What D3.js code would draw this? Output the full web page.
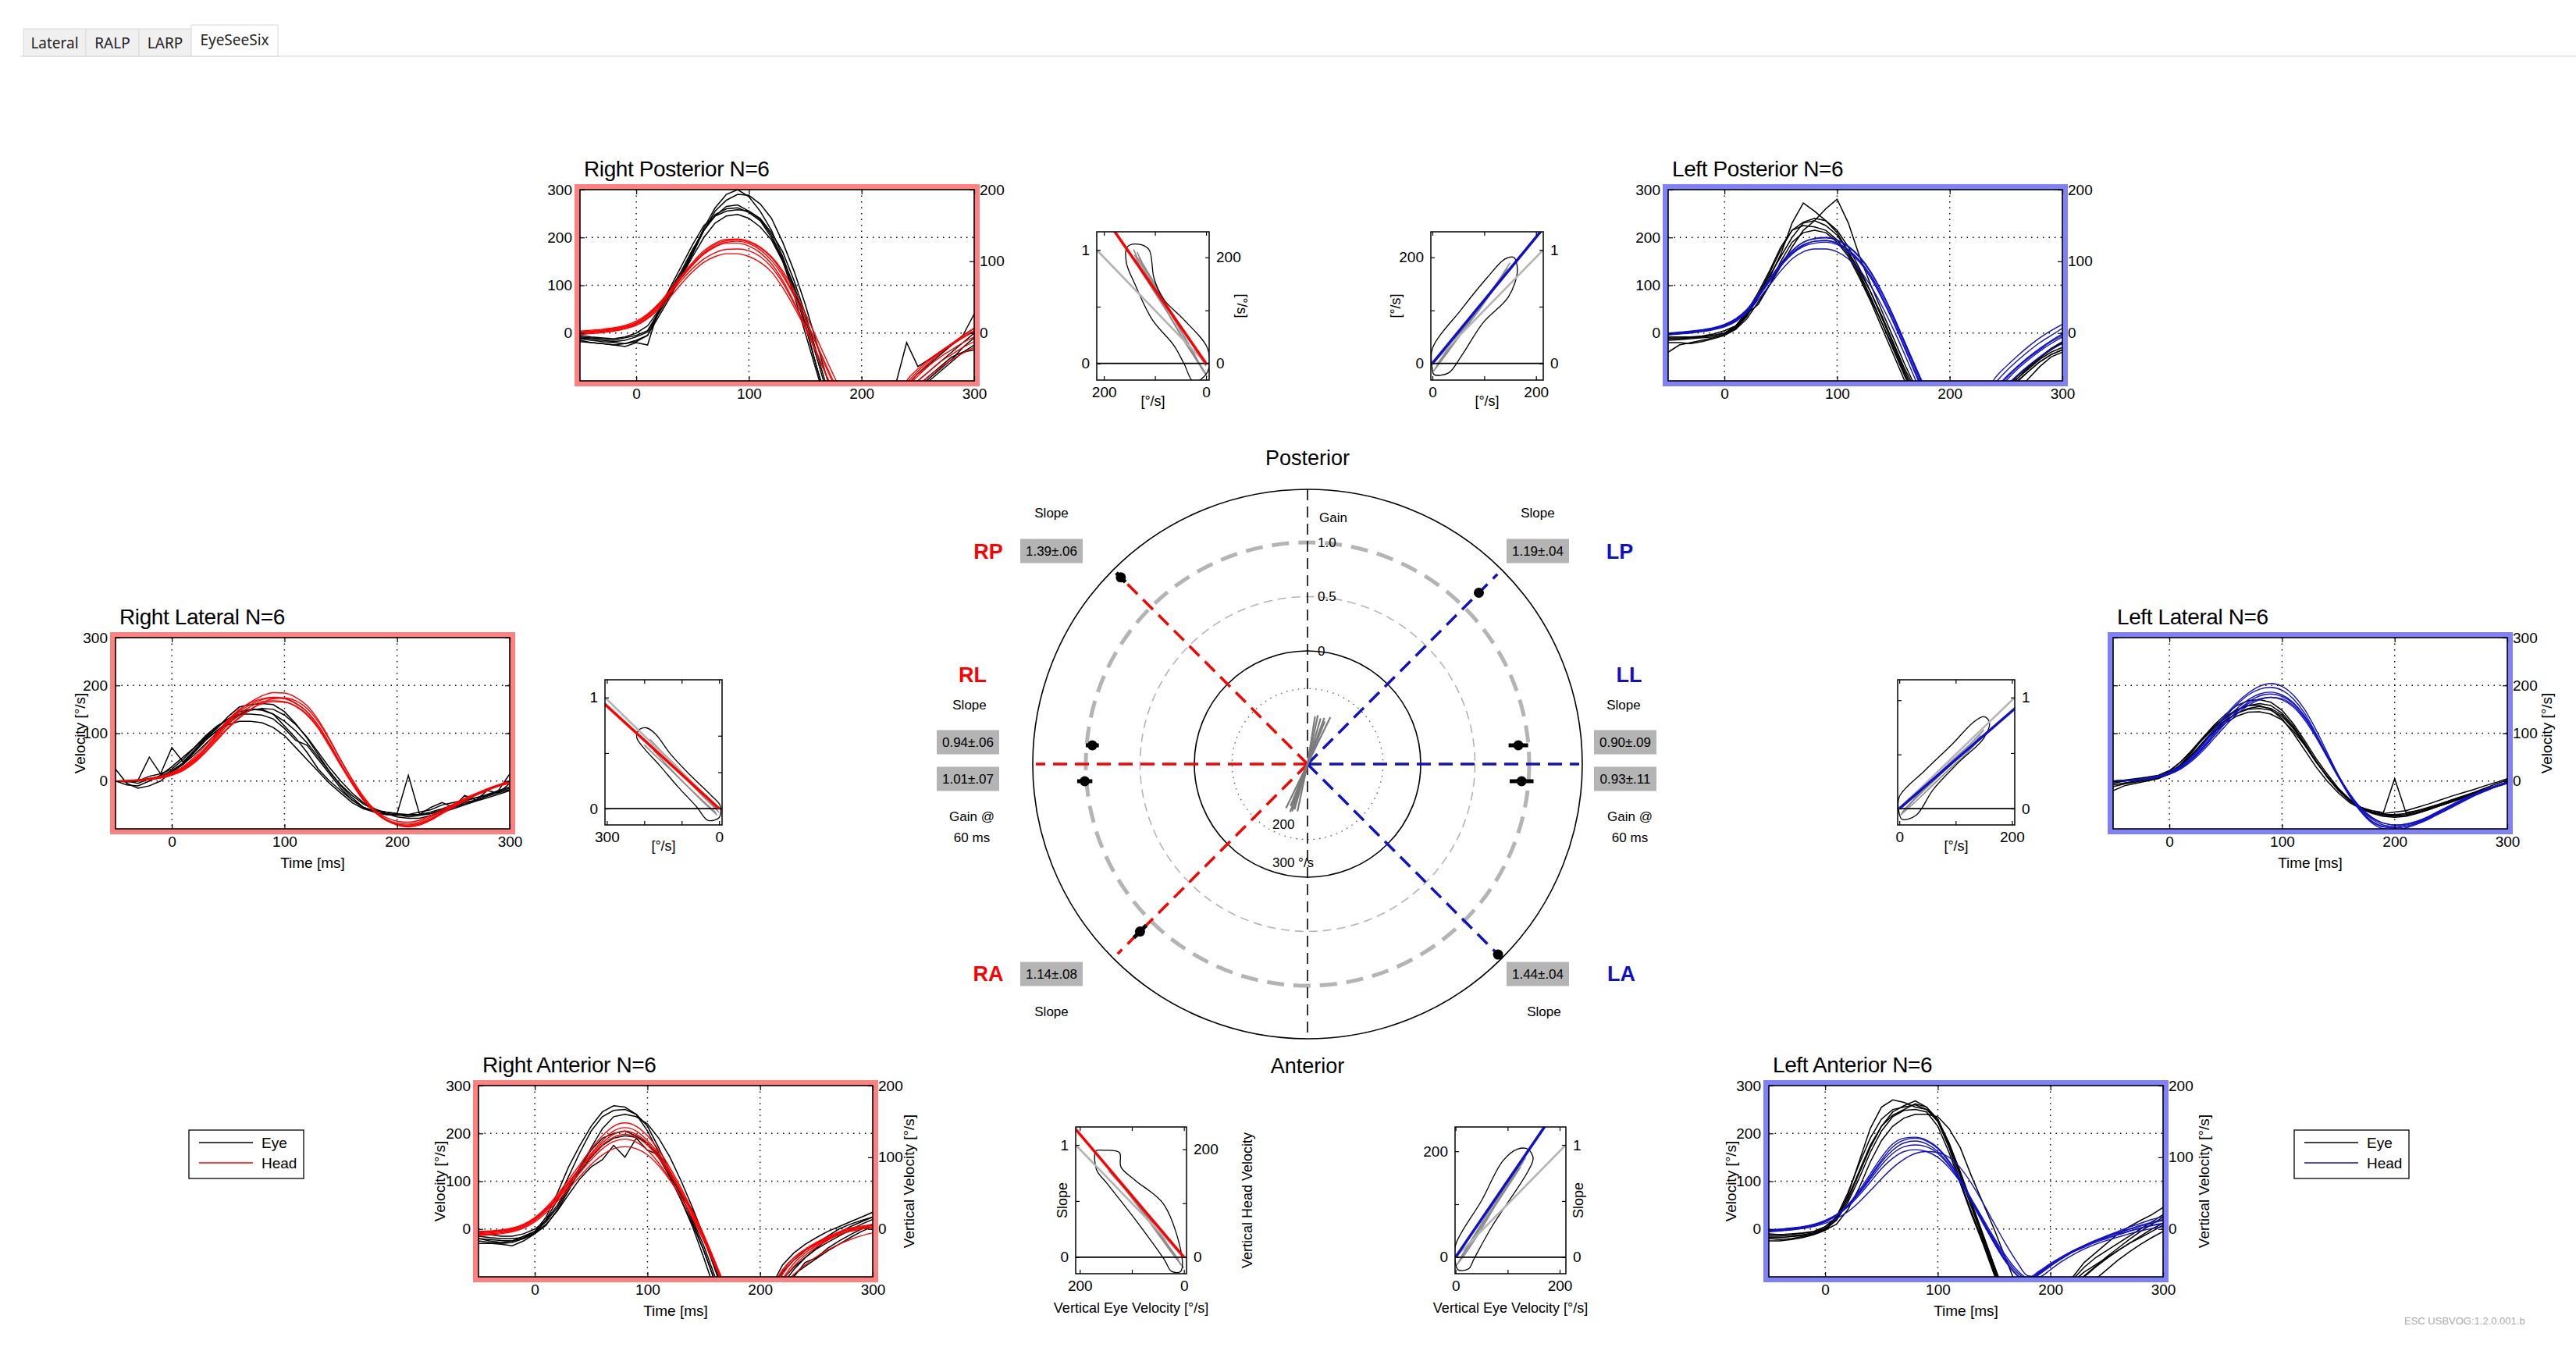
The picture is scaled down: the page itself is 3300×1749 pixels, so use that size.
<!DOCTYPE html>
<html>
<head>
<meta charset="utf-8">
<script src="https://cdn.jsdelivr.net/npm/d3@7"></script>
<style>
  body { margin: 0; background: #fff; }
  svg text { font-family: "Liberation Sans", Arial, Helvetica, sans-serif; }
</style>
</head>
<body>
<svg id="chart" width="3300" height="1749"></svg>
<script>
// ---------- DATA ----------
const timeMs = [-50,-40,-30,-20,-10,0,10,20,30,40,50,60,70,80,90,100,110,120,130,140,150,160,170,180,190,200,210,220,230,240,250,260,270,280,290,300];

// Right posterior
const rpEye = [
  [-5,-8,-10,-12,-8,0,15,48,85,125,170,220,262,290,300,285,255,215,160,95,20,-70,-150,-200,-220,-220,-200,-170,-140,-110,-85,-65,-45,-25,-5,10],
  [-12,-15,-18,-20,-22,-15,-5,42,80,120,165,215,255,278,290,288,270,240,190,130,60,-20,-100,-160,-200,-210,-200,-180,-150,-120,-100,-80,-60,-40,-20,0],
  [-15,-20,-22,-25,-28,-20,-25,50,95,140,185,225,245,255,258,255,240,210,170,110,40,-40,-120,-180,-210,-220,-210,-190,-160,-135,-110,-90,-70,-50,-40,-35],
  [-8,-10,-12,-15,-10,-5,5,45,90,130,175,215,245,265,268,255,238,205,155,100,30,-50,-130,-190,-210,-220,-200,-170,-110,-20,-70,-55,-40,-25,-5,40],
  [-10,-12,-15,-18,-15,-8,2,42,82,118,160,200,230,245,248,240,222,195,150,90,15,-70,-150,-200,-220,-220,-200,-180,-160,-140,-120,-100,-80,-60,-40,-25],
  [-18,-20,-22,-25,-22,-18,-5,35,75,120,170,215,248,260,262,252,235,200,150,80,0,-80,-160,-210,-230,-230,-220,-200,-170,-140,-115,-95,-75,-55,-30,-10]
];
const rpHead = [
  [2,4,6,9,14,22,38,60,88,118,145,168,185,193,195,190,178,158,125,80,30,-25,-80,-130,-170,-195,-200,-185,-150,-100,-75,-55,-38,-22,-8,5],
  [0,2,4,7,12,20,35,57,85,115,142,165,180,188,188,182,168,145,110,65,15,-40,-95,-145,-185,-205,-205,-185,-150,-115,-90,-68,-50,-35,-20,-8],
  [-2,0,2,5,10,18,32,54,82,110,135,155,168,175,176,172,160,138,105,62,15,-40,-95,-145,-185,-205,-205,-190,-160,-125,-100,-80,-60,-45,-30,-18],
  [4,6,8,11,16,25,40,62,90,120,148,172,188,196,197,192,180,160,130,90,42,-10,-62,-112,-155,-185,-195,-185,-140,-105,-80,-58,-40,-22,-5,10],
  [-3,-1,1,4,9,16,30,50,75,103,128,148,160,166,166,160,148,128,95,55,10,-42,-95,-145,-185,-205,-210,-195,-165,-135,-110,-90,-72,-56,-42,-30],
  [1,3,6,9,14,22,37,59,86,116,143,166,182,190,192,187,174,152,120,78,30,-22,-75,-125,-165,-190,-195,-180,-145,-110,-85,-62,-42,-25,-10,3]
];

// Left posterior
const lpEye = [
  [-40,-25,-20,-15,-10,-2,10,35,75,115,165,230,272,255,235,210,170,130,85,35,-20,-75,-120,-160,-190,-200,-200,-190,-170,-150,-125,-100,-80,-60,-45,-35],
  [-15,-14,-12,-10,-8,-3,8,30,65,100,140,180,215,235,260,280,230,160,100,45,-10,-65,-115,-155,-185,-200,-200,-190,-170,-145,-120,-95,-75,-55,-40,-30],
  [-10,-10,-9,-8,-5,0,12,40,80,125,175,215,232,240,235,215,180,135,85,30,-25,-80,-130,-170,-200,-210,-205,-190,-165,-140,-115,-90,-70,-50,-32,-18],
  [-20,-20,-22,-18,-12,-5,8,38,78,120,160,200,230,235,225,205,170,125,75,20,-35,-90,-140,-180,-205,-215,-210,-195,-175,-150,-125,-102,-80,-60,-45,-35],
  [-12,-12,-10,-8,-5,0,15,45,85,130,180,215,225,222,215,195,165,120,70,20,-30,-85,-135,-175,-200,-210,-205,-190,-165,-140,-115,-95,-72,-52,-35,-20],
  [-8,-8,-8,-6,-2,5,15,40,60,100,150,190,210,215,210,190,160,115,65,10,-45,-100,-145,-180,-205,-215,-210,-200,-180,-160,-140,-120,-95,-70,-50,-40]
];
const lpHead = [
  [-2,0,3,6,10,16,28,48,78,112,145,172,190,198,200,195,182,160,128,85,35,-20,-75,-125,-170,-200,-200,-175,-135,-95,-70,-48,-28,-10,5,18],
  [-3,-1,1,4,8,14,26,46,75,108,140,166,183,192,194,188,174,150,116,72,22,-32,-88,-140,-180,-205,-200,-170,-130,-105,-80,-58,-38,-20,-5,10],
  [0,2,4,7,11,18,30,50,80,113,146,172,190,197,199,194,180,158,126,84,36,-18,-72,-124,-168,-198,-205,-190,-155,-120,-95,-72,-52,-35,-18,-5],
  [-4,-2,0,3,7,13,24,43,70,100,130,155,170,176,176,170,155,132,98,56,8,-45,-100,-150,-190,-210,-210,-195,-165,-135,-110,-88,-68,-50,-35,-22],
  [-1,1,3,6,10,17,29,49,78,110,142,168,185,192,193,188,174,152,120,78,30,-24,-78,-130,-172,-200,-205,-190,-160,-128,-100,-76,-56,-38,-22,-8],
  [-2,0,2,5,9,15,27,47,76,108,140,165,181,188,190,185,170,148,115,72,24,-30,-84,-135,-176,-202,-205,-185,-150,-118,-92,-70,-50,-32,-16,-2]
];

// Right lateral
const rlEye = [
  [25,-5,-15,-10,0,20,35,60,85,105,125,140,150,150,140,115,90,60,25,0,-20,-40,-55,-65,-70,-70,-75,-72,-68,-60,-55,-45,-40,-30,-22,-15],
  [0,0,2,50,15,70,40,65,90,110,135,155,160,162,160,145,120,90,55,20,-10,-35,-55,-65,-70,-72,-70,-65,-60,-50,-45,-40,-35,-30,-20,15],
  [0,-2,0,10,15,25,45,70,95,115,130,140,140,138,130,110,85,75,45,15,-15,-40,-55,-62,-65,-68,12,-70,-55,-45,-55,-30,-40,-20,-25,-5],
  [0,0,-5,5,10,22,38,62,88,105,118,125,125,122,112,95,70,45,20,-5,-25,-45,-58,-65,-68,-70,-72,-70,-65,-58,-50,-42,-35,-28,-20,-12],
  [0,-8,-10,0,12,30,50,70,92,112,130,145,150,148,140,125,105,80,50,20,-8,-30,-48,-60,-65,-68,-70,-70,-68,-62,-55,-48,-40,-32,-25,-18],
  [0,0,0,5,10,18,35,55,78,100,120,138,148,152,150,138,118,92,60,28,0,-25,-45,-58,-68,-75,-78,-78,-72,-65,-58,-50,-42,-35,-28,-20]
];
const rlHead = [
  [0,1,2,5,9,16,28,46,70,98,125,148,165,178,185,184,175,158,128,88,44,2,-35,-62,-80,-90,-94,-90,-80,-68,-55,-42,-30,-20,-10,-3],
  [0,1,2,4,8,15,27,44,68,95,122,145,160,170,174,172,162,145,116,78,36,-4,-40,-65,-82,-90,-92,-88,-78,-66,-53,-40,-28,-18,-9,-2],
  [0,0,1,3,7,14,25,42,66,92,118,140,156,166,168,166,156,138,110,72,32,-6,-40,-64,-80,-88,-90,-85,-75,-63,-50,-38,-27,-17,-9,-3],
  [0,0,1,3,7,13,23,40,62,88,112,134,150,162,166,165,157,140,112,75,35,-3,-36,-60,-76,-84,-86,-82,-72,-60,-48,-36,-26,-16,-8,-1],
  [0,0,1,3,6,12,22,38,60,85,110,132,150,164,172,174,168,152,124,86,44,4,-32,-60,-80,-92,-96,-92,-82,-68,-54,-40,-28,-17,-8,0],
  [0,1,3,6,10,18,30,50,75,102,128,150,164,172,175,173,163,145,116,78,37,-3,-38,-64,-82,-92,-95,-90,-80,-66,-52,-40,-29,-19,-11,-5]
];

// Left lateral
const llEye = [
  [-20,-10,-5,0,5,15,35,60,90,115,135,150,158,158,150,130,100,65,30,0,-25,-45,-58,-65,-68,-65,-62,-55,-48,-40,-32,-25,-18,-10,-3,5],
  [-5,0,3,6,10,20,40,65,92,118,140,158,168,170,165,148,120,85,48,15,-15,-38,-55,-65,-70,-70,-68,-62,-55,-48,-40,-32,-24,-15,-6,2],
  [0,2,5,8,12,22,40,62,88,112,132,148,158,162,158,142,115,80,42,10,-18,-40,-55,-62,-66,5,-66,-62,-56,-48,-40,-32,-25,-18,-10,-2],
  [-8,-4,0,4,8,16,32,55,82,108,128,142,150,152,148,135,110,78,42,10,-18,-40,-56,-66,-72,-74,-72,-67,-60,-52,-44,-36,-28,-20,-12,-4],
  [-2,0,3,6,10,18,34,56,80,102,122,136,144,145,140,128,105,75,40,10,-18,-40,-55,-65,-70,-72,-70,-65,-58,-50,-42,-34,-26,-18,-10,-2],
  [-12,-6,-2,2,6,14,30,52,78,104,126,142,152,156,152,138,112,78,42,8,-20,-42,-58,-68,-74,-76,-74,-68,-60,-52,-44,-36,-28,-20,-12,-5]
];
const llHead = [
  [0,1,3,6,10,17,30,50,76,106,135,160,180,192,196,190,172,142,100,55,10,-30,-62,-84,-95,-98,-95,-88,-78,-66,-54,-42,-30,-20,-10,-2],
  [0,1,2,5,9,16,28,47,72,100,128,152,170,182,186,180,164,136,96,52,8,-32,-64,-85,-96,-98,-95,-88,-78,-66,-54,-42,-30,-20,-10,-3],
  [0,1,3,5,9,16,28,46,70,96,122,145,162,172,175,170,155,128,92,50,8,-28,-58,-78,-88,-92,-90,-84,-75,-64,-52,-40,-30,-20,-12,-5],
  [0,1,2,4,8,14,25,42,64,90,116,140,158,170,175,172,158,132,96,55,12,-26,-56,-76,-88,-92,-90,-84,-74,-62,-50,-38,-28,-18,-10,-3],
  [0,1,3,6,11,19,32,52,78,108,138,164,184,198,204,198,180,150,108,60,12,-30,-64,-88,-100,-102,-98,-90,-80,-68,-56,-44,-32,-22,-12,-4],
  [0,1,2,5,9,15,27,45,68,95,122,146,165,178,182,177,162,135,97,53,9,-30,-60,-80,-92,-95,-92,-86,-76,-64,-52,-41,-30,-20,-11,-4]
];

// Right anterior
const raEye = [
  [-20,-25,-28,-25,-15,-5,25,75,130,175,215,245,258,255,240,205,160,110,60,5,-60,-130,-190,-220,-220,-200,-140,-90,-65,-45,-30,-15,0,10,18,25],
  [-30,-30,-32,-35,-25,-10,20,60,110,160,205,235,248,250,240,215,170,120,70,15,-45,-110,-170,-210,-220,-190,-120,-75,-50,-32,-18,-5,5,15,25,35],
  [-15,-18,-20,-20,-18,-5,15,45,85,120,150,175,190,195,192,180,155,115,70,20,-35,-100,-160,-200,-210,-200,-160,-120,-100,-70,-60,-40,-25,-12,0,10],
  [-10,-12,-15,-15,-10,0,18,50,90,130,165,190,200,205,195,180,150,108,60,10,-45,-110,-170,-210,-220,-210,-170,-125,-95,-78,-62,-46,-32,-18,-5,5],
  [-25,-28,-30,-28,-20,-8,10,38,72,105,130,145,175,150,190,165,155,115,70,40,-20,-85,-150,-200,-215,-200,-150,-105,-80,-60,-42,-28,-15,-2,10,20],
  [-20,-22,-24,-25,-20,-10,8,40,80,125,170,210,235,240,235,220,190,150,100,45,-15,-80,-145,-195,-215,-205,-160,-115,-85,-60,-40,-22,-8,5,15,25]
];
const raHead = [
  [-8,-6,-4,0,8,22,42,68,98,128,158,185,205,212,205,185,158,122,80,35,-15,-70,-125,-170,-200,-190,-140,-95,-65,-45,-30,-18,-8,0,5,8],
  [-10,-8,-6,-2,6,20,40,65,95,125,155,180,198,205,198,180,152,118,78,32,-18,-72,-128,-172,-200,-185,-130,-88,-60,-42,-28,-16,-6,2,6,10],
  [-12,-10,-8,-4,4,18,38,62,90,118,145,168,183,188,182,165,138,104,65,22,-25,-78,-132,-175,-200,-180,-125,-85,-60,-45,-32,-20,-10,-3,2,5],
  [-5,-4,-2,2,10,24,45,72,103,135,167,195,215,222,215,195,165,128,85,38,-12,-68,-125,-172,-205,-195,-150,-105,-72,-50,-35,-22,-12,-5,0,4],
  [-14,-12,-10,-6,2,15,34,58,84,110,135,155,168,172,168,155,132,102,66,25,-20,-72,-125,-168,-195,-190,-155,-120,-95,-75,-58,-44,-32,-22,-14,-8],
  [-7,-5,-3,1,9,22,42,66,95,124,152,176,192,198,192,175,148,114,75,30,-20,-75,-130,-175,-205,-195,-150,-108,-78,-55,-38,-24,-12,-3,3,8]
];

// Left anterior
const laEye = [
  [-25,-25,-22,-18,-12,-3,20,70,140,210,255,270,265,255,250,230,175,110,45,-20,-85,-150,-200,-220,-210,-180,-140,-105,-80,-60,-45,-30,-15,0,15,30],
  [-20,-22,-20,-16,-10,0,25,75,135,190,230,250,255,260,250,225,180,120,55,-10,-75,-140,-190,-215,-205,-175,-140,-110,-90,-75,-60,-45,-30,-18,-5,8],
  [-10,-12,-10,-8,-5,5,25,65,120,175,215,238,250,262,255,230,180,115,50,-15,-80,-145,-195,-220,-210,-180,-150,-120,-100,-80,-62,-45,-30,-15,0,12],
  [-15,-15,-14,-12,-8,0,18,55,105,160,205,235,248,250,245,215,160,95,30,-30,-95,-155,-200,-220,-205,-170,-135,-100,-70,-50,-30,-10,5,18,30,45],
  [-18,-18,-16,-14,-10,-2,10,40,85,140,185,215,232,240,240,235,210,170,110,55,0,-60,-120,-170,-200,-210,-190,-160,-130,-105,-85,-65,-48,-32,-18,-5],
  [-12,-12,-11,-9,-6,2,22,60,115,170,215,245,258,268,255,225,170,100,35,-25,-90,-150,-200,-220,-210,-185,-155,-125,-98,-78,-58,-40,-22,-5,10,25]
];
const laHead = [
  [-3,-1,1,4,9,17,30,50,80,115,150,178,190,192,186,170,142,105,62,18,-25,-65,-95,-110,-95,-78,-62,-48,-35,-24,-14,-5,4,12,20,26],
  [-5,-3,-1,2,7,15,28,48,76,108,140,165,180,184,178,162,135,98,56,12,-30,-68,-96,-108,-92,-75,-60,-46,-34,-24,-15,-7,0,8,14,20],
  [-2,0,2,5,10,18,30,48,74,104,134,158,172,176,172,158,133,100,60,18,-22,-60,-90,-105,-90,-74,-60,-48,-38,-28,-20,-12,-5,2,8,12],
  [-4,-2,0,3,8,16,28,46,70,98,126,148,162,166,162,150,128,98,62,22,-18,-55,-85,-102,-88,-72,-58,-45,-35,-26,-18,-11,-4,2,7,11],
  [-6,-4,-2,1,5,12,22,36,56,80,105,128,146,158,162,160,150,128,95,55,12,-30,-68,-98,-100,-85,-68,-54,-42,-32,-24,-17,-10,-4,1,5],
  [-3,-1,1,4,9,16,29,48,76,110,144,172,186,190,184,168,140,103,60,15,-28,-66,-96,-110,-94,-77,-62,-48,-36,-25,-16,-8,-1,6,12,18]
];

// canal summary values
const canalNames = ['RP', 'LP', 'RL', 'LL', 'RA', 'LA'];
const canalAngles = [135, 45, 180, 0, 225, 315];
const slopeMean = [1.39, 1.19, 0.94, 0.90, 1.14, 1.44];
const slopeSd = [0.06, 0.04, 0.06, 0.09, 0.08, 0.04];
const gain60Mean = [null, null, 1.01, 0.93, null, null];
const gain60Sd = [null, null, 0.07, 0.11, null, null];

// regression plots: outline and velocity trajectories [velocity, velocity]
const rpContour = [[154,220],[133,225],[112,215],[102,161],[84,122],[43,82],[-3,28],[-3,-16],[24,-35],[43,-1],[63,34],[105,82],[140,151],[156,190]];
const rpTraj = [
  [[0,-20],[20,10],[50,55],[80,105],[110,150],[130,185],[140,205]],
  [[5,-15],[25,20],[55,70],[85,120],[115,165],[135,200],[142,215]],
  [[-2,-25],[15,0],[45,45],[75,95],[105,140],[128,175],[138,195]],
  [[8,-10],[30,30],[60,80],[90,130],[118,175],[132,200]],
  [[0,-5],[20,25],[40,55],[70,100],[100,150],[125,190],[135,210]]
];
const lpContour = [[0,28],[56,102],[105,161],[140,197],[157,200],[164,175],[147,126],[98,77],[56,14],[31,-18],[3,-21],[0,-11]];
const lpTraj = [
  [[5,-10],[30,25],[60,65],[95,110],[125,150],[145,180]],
  [[8,-5],[35,35],[65,75],[100,118],[130,160],[150,190]],
  [[2,-15],[25,15],[55,55],[90,100],[120,142],[140,170]],
  [[10,0],[40,40],[75,88],[110,130],[140,172]]
];
const rlContour = [[215,215],[195,222],[170,205],[130,150],[80,95],[20,35],[-3,8],[0,-25],[30,-32],[60,5],[110,60],[160,120],[200,165],[220,195]];
const rlTraj = [
  [[0,-10],[40,30],[80,72],[120,112],[160,150],[190,180]],
  [[5,-18],[45,20],[85,62],[125,102],[165,140],[200,175]],
  [[3,-5],[35,32],[75,75],[115,118],[155,158],[185,190]],
  [[8,-12],[50,28],[95,72],[140,120],[175,160]]
];
const llContour = [[0,22],[45,70],[95,120],[130,158],[150,170],[160,160],[150,130],[105,85],[60,35],[30,-12],[5,-20],[0,-10]];
const llTraj = [
  [[4,-8],[30,20],[60,50],[90,80],[120,108],[145,135]],
  [[8,-4],[35,28],[65,60],[95,90],[125,118],[150,145]],
  [[2,-12],[28,12],[58,42],[88,72],[118,100],[140,125]],
  [[10,0],[40,30],[75,65],[110,100],[140,128]]
];
const raContour = [[169,197],[155,198],[124,194],[121,167],[93,142],[38,97],[3,-7],[7,-27],[24,-26],[38,-4],[100,78],[148,137],[168,162]];
const raTraj = [
  [[5,-15],[30,20],[60,60],[95,105],[125,140],[150,170]],
  [[10,-5],[40,35],[70,75],[105,118],[135,150],[155,178]],
  [[0,-20],[25,10],[55,50],[85,90],[115,128],[145,160]],
  [[8,-10],[35,28],[65,70],[100,112],[130,148]]
];
const laContour = [[0,23],[50,107],[91,182],[119,204],[139,204],[149,187],[139,162],[70,58],[36,-2],[25,-22],[5,-24],[0,-11]];
const laTraj = [
  [[5,-10],[25,20],[50,58],[80,105],[110,150],[130,180]],
  [[8,-5],[30,30],[60,75],[90,122],[115,160],[135,188]],
  [[2,-15],[20,8],[45,45],[75,95],[105,140],[125,170]],
  [[10,0],[35,40],[65,88],[95,132],[125,175]]
];

// head impulse directions in the polar centre [deg, °/s]
const headUpAngle = [64, 70, 74, 78, 81, 68];
const headUpVel = [138, 130, 126, 132, 128, 122];
const headDownAngle = [244, 250, 254, 258, 248, 252];
const headDownVel = [130, 135, 125, 128, 120, 132];

// axis ticks
const timeTicks = [0, 100, 200, 300];
const velTicks = [0, 100, 200, 300];
const vertVelTicks = [0, 100, 200];
const gainRings = [1.0, 0.5];
const tabNames = ['Lateral', 'RALP', 'LARP', 'EyeSeeSix'];
const legendNames = ['Eye', 'Head'];

// ---------- DRAWING ----------
const svg = d3.select('#chart');
const FONT = '"Liberation Sans", Arial, Helvetica, sans-serif';
const RED = '#ff0000';
const BLUE = '#1010c8';
const PINK = '#ff8080';
const LBLUE = '#8080f8';
const PW = 505, PH = 245;

svg.append('rect').attr('width', 3300).attr('height', 1749).attr('fill', '#fff');

function styleAxis(sel, fs) {
    sel.attr('font-family', FONT).attr('font-size', fs);
    sel.select('.domain').remove();
    sel.selectAll('.tick line').attr('stroke', '#000').attr('stroke-width', 1.2);
    sel.selectAll('.tick text').attr('fill', '#000');
}

function vText(g, x, y, txt, fs, rot) {
    g.append('text')
        .attr('transform', `translate(${x},${y}) rotate(${rot})`)
        .attr('text-anchor', 'middle')
        .attr('dy', '0.35em')
        .style('font-size', fs + 'px')
        .text(txt);
}

// tabs
function drawTabs() {
    const tabW = [80, 68, 67, 111];
    let tx = 30;
    const g = svg.append('g');
    g.append('line').attr('x1', 25).attr('x2', 3300).attr('y1', 72).attr('y2', 72).attr('stroke', '#e3e3e3').attr('stroke-width', 1.5);
    tabNames.forEach((t, i) => {
        const sel = i === tabNames.length - 1;
        const y0 = sel ? 32 : 37;
        g.append('rect').attr('x', tx).attr('y', y0).attr('width', tabW[i]).attr('height', 72 - y0)
            .attr('fill', sel ? '#ffffff' : '#f0f0f0').attr('stroke', '#d9d9d9').attr('stroke-width', 1);
        g.append('text').attr('x', tx + tabW[i] / 2).attr('y', sel ? 58 : 62).attr('text-anchor', 'middle')
            .style('font-family', '"Noto Sans", "Open Sans", sans-serif').style('font-size', '19px').attr('fill', '#222')
            .text(t);
        tx += tabW[i];
    });
}

function drawTimePanel(p) {
    const g = svg.append('g').attr('transform', `translate(${p.x},${p.y})`);
    const x = d3.scaleLinear().domain([-50, 300]).range([0, PW]);
    const y = d3.scaleLinear().domain([-100, 300]).range([PH, 0]);
    const y2 = d3.scaleLinear().domain([-200 / 3, 200]).range([PH, 0]);

    g.append('rect').attr('x', -3.5).attr('y', -3.5).attr('width', PW + 7).attr('height', PH + 7)
        .attr('fill', 'none').attr('stroke', p.frame).attr('stroke-width', 7);

    const grid = g.append('g').attr('stroke', '#000').attr('stroke-width', 1.4).attr('stroke-dasharray', '1.5,6');
    grid.selectAll('line.gx').data(timeTicks.slice(0, 3)).join('line').attr('class', 'gx')
        .attr('x1', d => x(d)).attr('x2', d => x(d)).attr('y1', 0).attr('y2', PH);
    grid.selectAll('line.gy').data(velTicks.slice(0, 3)).join('line').attr('class', 'gy')
        .attr('x1', 0).attr('x2', PW).attr('y1', d => y(d)).attr('y2', d => y(d));

    g.append('clipPath').attr('id', 'clip-' + p.id).append('rect').attr('width', PW).attr('height', PH);
    const tr = g.append('g').attr('clip-path', `url(#clip-${p.id})`).attr('fill', 'none');
    const eyeLine = d3.line().x((d, i) => x(timeMs[i])).y(d => y(d));
    const headLine = d3.line().x((d, i) => x(timeMs[i])).y(d => y(d)).curve(d3.curveMonotoneX);
    tr.selectAll('path.eye').data(p.eye).join('path').attr('class', 'eye')
        .attr('d', eyeLine).attr('stroke', '#000').attr('stroke-width', 1.5);
    tr.selectAll('path.head').data(p.head).join('path').attr('class', 'head')
        .attr('d', headLine).attr('stroke', p.color).attr('stroke-width', 1.4);

    g.append('rect').attr('width', PW).attr('height', PH).attr('fill', 'none').attr('stroke', '#000').attr('stroke-width', 1.6);

    const left = g.append('g').call(d3.axisLeft(y).tickValues(velTicks).tickSize(-6).tickPadding(10)
        .tickFormat(p.leftLabels ? d3.format('d') : ''));
    styleAxis(left, 19);
    let right;
    if (p.right === 'vert') {
        right = g.append('g').attr('transform', `translate(${PW},0)`)
            .call(d3.axisRight(y2).tickValues(vertVelTicks).tickSize(-6).tickPadding(7));
    } else {
        right = g.append('g').attr('transform', `translate(${PW},0)`)
            .call(d3.axisRight(y).tickValues(velTicks).tickSize(-6).tickPadding(7)
                .tickFormat(p.right === 'vel' ? d3.format('d') : ''));
    }
    styleAxis(right, 19);
    const bottom = g.append('g').attr('transform', `translate(0,${PH})`)
        .call(d3.axisBottom(x).tickValues(timeTicks).tickSize(-6).tickPadding(10));
    styleAxis(bottom, 19);
    const top = g.append('g').call(d3.axisTop(x).tickValues(timeTicks).tickSize(-6).tickFormat(''));
    styleAxis(top, 19);

    g.append('text').attr('x', 5).attr('y', -17).style('font-size', '28px').style('letter-spacing', '-0.4px').text(p.title);
    if (p.xLabel) {
        g.append('text').attr('x', PW / 2).attr('y', PH + 50).attr('text-anchor', 'middle').style('font-size', '19px').text('Time [ms]');
    }
    if (p.leftTitle) vText(g, p.leftTitleX, PH / 2, p.leftTitle, 19, -90);
    if (p.rightTitle) vText(g, PW + p.rightTitleX, PH / 2, p.rightTitle, 19, -90);
}

function drawScatter(s) {
    const g = svg.append('g').attr('transform', `translate(${s.x},${s.y})`);
    const edge = s.xMax;
    const x = d3.scaleLinear().domain([s.xMin, s.xMax]).range(s.mirror ? [s.w, 0] : [0, s.w]);
    const y = d3.scaleLinear().domain([-0.147 * edge, 1.16 * edge]).range([s.h, 0]);
    const ys = d3.scaleLinear().domain([-0.147, 1.16]).range([s.h, 0]);

    g.append('clipPath').attr('id', 'clip-' + s.id).append('rect').attr('width', s.w).attr('height', s.h);
    const c = g.append('g').attr('clip-path', `url(#clip-${s.id})`).attr('fill', 'none');

    c.selectAll('path.traj').data(s.traj).join('path').attr('class', 'traj')
        .attr('d', d3.line().x(d => x(d[0])).y(d => y(d[1])))
        .attr('stroke', '#8c8c8c').attr('stroke-width', 1.6);
    c.append('path').datum(s.contour)
        .attr('d', d3.line().x(d => x(d[0])).y(d => y(d[1])).curve(d3.curveCatmullRomClosed.alpha(0.5)))
        .attr('stroke', '#000').attr('stroke-width', 1.3);
    c.append('line').attr('x1', 0).attr('x2', s.w).attr('y1', y(0)).attr('y2', y(0)).attr('stroke', '#000').attr('stroke-width', 1.6);
    c.append('line').attr('x1', x(0)).attr('y1', y(0)).attr('x2', x(edge)).attr('y2', y(edge))
        .attr('stroke', '#b4b4b4').attr('stroke-width', 2.6);
    c.append('line').attr('x1', x(0)).attr('y1', y(0)).attr('x2', x(edge * 1.3)).attr('y2', y(edge * 1.3 * s.slope))
        .attr('stroke', s.color).attr('stroke-width', 3.5);

    g.append('rect').attr('width', s.w).attr('height', s.h).attr('fill', 'none').attr('stroke', '#000').attr('stroke-width', 1.5);

    const slopeAx = (s.mirror ? d3.axisLeft(ys) : d3.axisRight(ys)).tickValues([0, 0.5, 1]).tickSize(-5).tickPadding(9)
        .tickFormat(d => d === 0.5 ? '' : d);
    const velAx = (s.mirror ? d3.axisRight(y) : d3.axisLeft(y)).tickValues(vertVelTicks).tickSize(-5).tickPadding(9)
        .tickFormat(d => (d === 100 || !s.velLabels) ? '' : d);
    const sa = g.append('g').attr('transform', `translate(${s.mirror ? 0 : s.w},0)`).call(slopeAx);
    styleAxis(sa, 19);
    const va = g.append('g').attr('transform', `translate(${s.mirror ? s.w : 0},0)`).call(velAx);
    styleAxis(va, 19);
    const bt = g.append('g').attr('transform', `translate(0,${s.h})`)
        .call(d3.axisBottom(x).tickValues(s.xTicks).tickSize(-5).tickPadding(9)
            .tickFormat(d => (d === 0 || d === s.xTicks[s.xTicks.length - 1]) ? d : ''));
    styleAxis(bt, 19);
    const tp = g.append('g').call(d3.axisTop(x).tickValues(s.xTicks).tickSize(-5).tickFormat(''));
    styleAxis(tp, 19);

    if (s.bottomTitle) {
        g.append('text').attr('x', s.w / 2).attr('y', s.h + s.bottomTitleY).attr('text-anchor', 'middle')
            .style('font-size', '18px').text(s.bottomTitle);
    }
    (s.sideTitles || []).forEach(t => vText(g, t.x, s.h / 2, t.text, 18, t.rot));
}

function drawPolar(cx, cy) {
    const g = svg.append('g').attr('transform', `translate(${cx},${cy})`);
    const outerR = 352;
    const rGain = d3.scaleLinear().domain([0, 1]).range([145, 284]);
    const rVel = d3.scaleLinear().domain([0, 300]).range([0, 145]);
    const pt = (deg, r) => [r * Math.cos(deg * Math.PI / 180), -r * Math.sin(deg * Math.PI / 180)];

    g.append('circle').attr('r', outerR).attr('fill', 'none').attr('stroke', '#000').attr('stroke-width', 1.6);
    g.selectAll('circle.gain').data(gainRings).join('circle').attr('class', 'gain')
        .attr('r', d => rGain(d)).attr('fill', 'none').attr('stroke', '#b4b4b4')
        .attr('stroke-width', d => d === 1 ? 5 : 1.6)
        .attr('stroke-dasharray', d => d === 1 ? '22,12' : '11,7');
    g.append('circle').attr('r', rGain(0)).attr('fill', 'none').attr('stroke', '#000').attr('stroke-width', 1.6);
    g.append('circle').attr('r', rVel(200)).attr('fill', 'none').attr('stroke', '#555')
        .attr('stroke-width', 1.3).attr('stroke-dasharray', '1.5,6');

    // vertical axis
    g.append('line').attr('x1', 0).attr('x2', 0).attr('y1', -outerR).attr('y2', outerR)
        .attr('stroke', '#000').attr('stroke-width', 1.6).attr('stroke-dasharray', '14,8');

    // canal directions
    canalNames.forEach((c, i) => {
        const ang = canalAngles[i];
        const end = pt(ang, ang % 90 === 0 ? outerR - 4 : outerR - 8);
        g.append('line').attr('x1', 0).attr('y1', 0).attr('x2', end[0]).attr('y2', end[1])
            .attr('stroke', c[0] === 'R' ? RED : BLUE).attr('stroke-width', 3.5).attr('stroke-dasharray', '18,10');
    });

    // head impulse directions
    headUpAngle.forEach((a, i) => {
        const p1 = pt(headDownAngle[i], rVel(headDownVel[i]));
        const p2 = pt(a, rVel(headUpVel[i]));
        g.append('path').attr('d', `M${p1[0]},${p1[1]}L0,0L${p2[0]},${p2[1]}`)
            .attr('fill', 'none').attr('stroke', '#7a7a7a').attr('stroke-width', 2.2);
    });

    // gain markers
    canalNames.forEach((c, i) => {
        const ang = canalAngles[i];
        const vals = gain60Mean[i] == null ? [[slopeMean[i], slopeSd[i], 0]]
            : [[slopeMean[i], slopeSd[i], -24], [gain60Mean[i], gain60Sd[i], 22]];
        vals.forEach(([m, sd, off]) => {
            const a = pt(ang, rGain(m - sd)), b = pt(ang, rGain(m + sd)), p = pt(ang, rGain(m));
            g.append('line').attr('x1', a[0]).attr('y1', a[1] + off).attr('x2', b[0]).attr('y2', b[1] + off)
                .attr('stroke', '#000').attr('stroke-width', 5);
            g.append('circle').attr('cx', p[0]).attr('cy', p[1] + off).attr('r', 6.5).attr('fill', '#000');
        });
    });

    // ring labels
    g.append('text').attr('x', 15).attr('y', -outerR + 42).style('font-size', '17px').text('Gain');
    [1.0, 0.5, 0].forEach(v => {
        g.append('text').attr('x', 13).attr('y', -rGain(v)).attr('dy', '0.35em').style('font-size', '17px')
            .text(v === 0 ? '0' : v.toFixed(1));
    });
    g.append('text').attr('x', -45).attr('y', rVel(200) - 20).attr('dy', '0.35em').style('font-size', '17px').text('200');
    g.append('text').attr('x', -45).attr('y', rVel(300) - 19).attr('dy', '0.35em').style('font-size', '17px').text('300 °/s');

    g.append('text').attr('x', 0).attr('y', -392).attr('dy', '0.35em').attr('text-anchor', 'middle').style('font-size', '27px').text('Posterior');
    g.append('text').attr('x', 0).attr('y', 387).attr('dy', '0.35em').attr('text-anchor', 'middle').style('font-size', '27px').text('Anterior');

    // canal annotations
    const lay = {
        RP: {name: [-409, -272], slope: [-328, -322], box: [[-328, -273]]},
        LP: {name: [400, -272], slope: [295, -322], box: [[295, -273]]},
        RL: {name: [-429, -114], slope: [-433, -76], box: [[-435, -28], [-435, 19]], gain: [-430, 67]},
        LL: {name: [412, -114], slope: [405, -76], box: [[407, -28], [407, 19]], gain: [413, 67]},
        RA: {name: [-409, 269], slope: [-328, 317], box: [[-328, 269]]},
        LA: {name: [402, 269], slope: [303, 317], box: [[295, 269]]}
    };
    const fmt = (m, sd) => m.toFixed(2) + '±' + sd.toFixed(2).replace(/^0/, '');
    canalNames.forEach((c, i) => {
        const L = lay[c];
        g.append('text').attr('x', L.name[0]).attr('y', L.name[1]).attr('dy', '0.35em').attr('text-anchor', 'middle')
            .style('font-size', '27px').style('font-weight', 'bold').attr('fill', c[0] === 'R' ? RED : BLUE).text(c);
        g.append('text').attr('x', L.slope[0]).attr('y', L.slope[1]).attr('dy', '0.35em').attr('text-anchor', 'middle')
            .style('font-size', '17px').text('Slope');
        const vals = [fmt(slopeMean[i], slopeSd[i])];
        if (gain60Mean[i] != null) vals.push(fmt(gain60Mean[i], gain60Sd[i]));
        vals.forEach((v, k) => {
            const [bx, by] = L.box[k];
            g.append('rect').attr('x', bx - 40).attr('y', by - 15.5).attr('width', 80).attr('height', 31).attr('fill', '#b4b4b4');
            g.append('text').attr('x', bx).attr('y', by).attr('dy', '0.35em').attr('text-anchor', 'middle')
                .style('font-size', '17px').text(v);
        });
        if (L.gain) {
            g.append('text').attr('x', L.gain[0]).attr('y', L.gain[1]).attr('dy', '0.35em').attr('text-anchor', 'middle')
                .style('font-size', '17px').text('Gain @');
            g.append('text').attr('x', L.gain[0]).attr('y', L.gain[1] + 27).attr('dy', '0.35em').attr('text-anchor', 'middle')
                .style('font-size', '17px').text('60 ms');
        }
    });
}

function drawLegend(x0, y0, headColor) {
    const g = svg.append('g').attr('transform', `translate(${x0},${y0})`);
    g.append('rect').attr('width', 147).attr('height', 62).attr('fill', '#fff').attr('stroke', '#000').attr('stroke-width', 1.3);
    legendNames.forEach((n, i) => {
        const yy = 16 + i * 26;
        g.append('line').attr('x1', 13).attr('x2', 82).attr('y1', yy).attr('y2', yy)
            .attr('stroke', i === 0 ? '#000' : headColor).attr('stroke-width', 1.6);
        g.append('text').attr('x', 93).attr('y', yy).attr('dy', '0.35em').style('font-size', '19px').text(n);
    });
}

drawTabs();

const timePanels = [
    {id: 'rp', title: 'Right Posterior N=6', x: 743, y: 243, frame: PINK, color: RED, eye: rpEye, head: rpHead, leftLabels: true, right: 'vert'},
    {id: 'lp', title: 'Left Posterior N=6', x: 2137, y: 243, frame: LBLUE, color: BLUE, eye: lpEye, head: lpHead, leftLabels: true, right: 'vert'},
    {id: 'rl', title: 'Right Lateral N=6', x: 148, y: 817, frame: PINK, color: RED, eye: rlEye, head: rlHead, leftLabels: true, right: 'none',
        xLabel: true, leftTitle: 'Velocity [°/s]', leftTitleX: -46},
    {id: 'll', title: 'Left Lateral N=6', x: 2707, y: 817, frame: LBLUE, color: BLUE, eye: llEye, head: llHead, leftLabels: false, right: 'vel',
        xLabel: true, rightTitle: 'Velocity [°/s]', rightTitleX: 50},
    {id: 'ra', title: 'Right Anterior N=6', x: 613, y: 1391, frame: PINK, color: RED, eye: raEye, head: raHead, leftLabels: true, right: 'vert',
        xLabel: true, leftTitle: 'Velocity [°/s]', leftTitleX: -50, rightTitle: 'Vertical Velocity [°/s]', rightTitleX: 46},
    {id: 'la', title: 'Left Anterior N=6', x: 2266, y: 1391, frame: LBLUE, color: BLUE, eye: laEye, head: laHead, leftLabels: true, right: 'vert',
        xLabel: true, leftTitle: 'Velocity [°/s]', leftTitleX: -49, rightTitle: 'Vertical Velocity [°/s]', rightTitleX: 52}
];
timePanels.forEach(drawTimePanel);

const scatters = [
    {id: 'srp', x: 1405, y: 297, w: 144, h: 190, xMin: -6, xMax: 214, mirror: true, slope: slopeMean[0], color: RED,
        contour: rpContour, traj: rpTraj, xTicks: [0, 100, 200], velLabels: true, bottomTitle: '[°/s]', bottomTitleY: 33,
        sideTitles: [{x: 186, text: '[°/s]', rot: 90}]},
    {id: 'slp', x: 1833, y: 297, w: 144, h: 190, xMin: -3, xMax: 214, mirror: false, slope: slopeMean[1], color: BLUE,
        contour: lpContour, traj: lpTraj, xTicks: [0, 100, 200], velLabels: true, bottomTitle: '[°/s]', bottomTitleY: 33,
        sideTitles: [{x: -45, text: '[°/s]', rot: -90}]},
    {id: 'srl', x: 775, y: 871, w: 150, h: 186, xMin: -8, xMax: 305, mirror: true, slope: slopeMean[2], color: RED,
        contour: rlContour, traj: rlTraj, xTicks: [0, 100, 200, 300], velLabels: false, bottomTitle: '[°/s]', bottomTitleY: 33},
    {id: 'sll', x: 2431, y: 871, w: 150, h: 186, xMin: -3, xMax: 205, mirror: false, slope: slopeMean[3], color: BLUE,
        contour: llContour, traj: llTraj, xTicks: [0, 100, 200], velLabels: false, bottomTitle: '[°/s]', bottomTitleY: 33},
    {id: 'sra', x: 1378, y: 1444, w: 142, h: 188, xMin: -5, xMax: 208, mirror: true, slope: slopeMean[4], color: RED,
        contour: raContour, traj: raTraj, xTicks: [0, 100, 200], velLabels: true,
        bottomTitle: 'Vertical Eye Velocity [°/s]', bottomTitleY: 50,
        sideTitles: [{x: -17, text: 'Slope', rot: -90}, {x: 220, text: 'Vertical Head Velocity', rot: -90}]},
    {id: 'sla', x: 1864, y: 1444, w: 142, h: 188, xMin: -1, xMax: 212, mirror: false, slope: slopeMean[5], color: BLUE,
        contour: laContour, traj: laTraj, xTicks: [0, 100, 200], velLabels: true,
        bottomTitle: 'Vertical Eye Velocity [°/s]', bottomTitleY: 50,
        sideTitles: [{x: 158, text: 'Slope', rot: -90}]}
];
scatters.forEach(drawScatter);

drawPolar(1675, 979);

drawLegend(242, 1448, RED);
drawLegend(2939, 1448, BLUE);

svg.append('text').attr('x', 3080).attr('y', 1697).style('font-size', '13px').attr('fill', '#aaa').text('ESC USBVOG:1.2.0.001.b');
</script>
</body>
</html>
